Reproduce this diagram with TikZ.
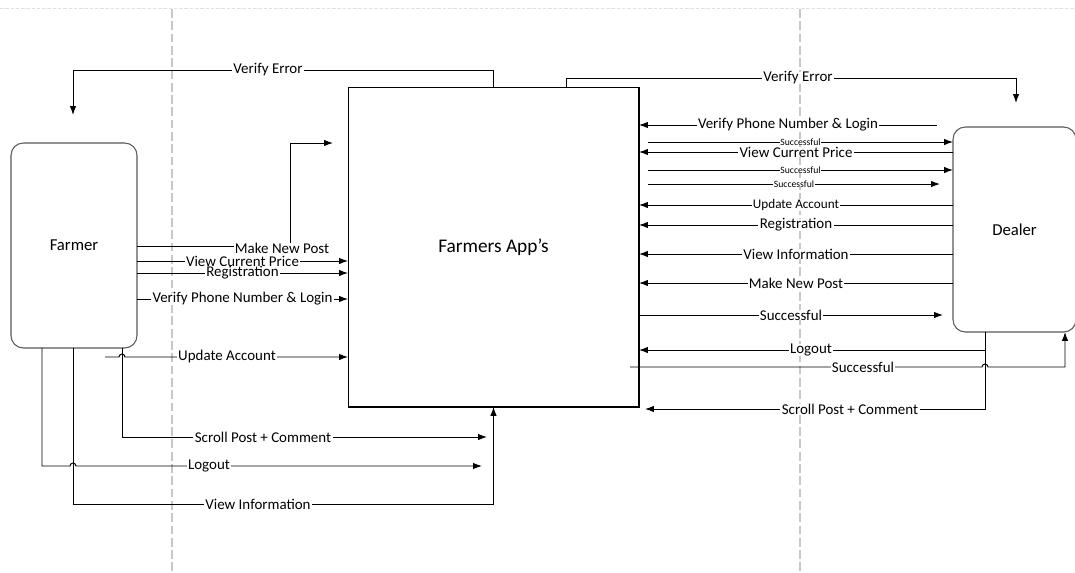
\documentclass[tikz,border=0pt]{standalone}
\usepackage{fontspec}
\setmainfont{Carlito}
\usetikzlibrary{arrows.meta, positioning}

\begin{document}
\begin{tikzpicture}[x=0.02cm, y=-0.02cm,
        actor/.style={rectangle, draw=black!65, line width=0.6pt, rounded corners=7pt, inner sep=0pt, outer sep=0pt, minimum height=4.1cm, font=\fontsize{9.5}{11}\selectfont},
        system/.style={rectangle, draw=black, line width=0.6pt, inner sep=0pt, outer sep=0pt, minimum width=5.82cm, minimum height=6.4cm, font=\fontsize{11}{13}\selectfont},
        lane/.style={draw=black!22, line width=0.6pt, dash pattern=on 5pt off 2pt},
        flow/.style={draw, -{Latex[length=5pt,width=3.6pt]}, line width=0.55pt},
        lbl/.style={fill=white, inner xsep=0.8pt, inner ysep=0pt, font=\fontsize{8.5}{9}\selectfont},
        smalllbl/.style={fill=white, inner xsep=0.5pt, inner ysep=0pt, font=\fontsize{5.5}{6}\selectfont}
    ]

        % Page and swim lanes
        \fill [white] (0,0) rectangle (1075,572);
        \useasboundingbox (0,0) rectangle (1075,572);
        \draw [draw=black!12, line width=0.5pt, dash pattern=on 2pt off 1pt] (0,8) -- (1075,8);
        \draw [lane] (172,9) -- (172,572);
        \draw [lane] (800,9) -- (800,572);

        % Actors and system
        \node [actor, minimum width=2.52cm] (farmer) at (74,245.5) {Farmer};
        \node [system] (app) at (493.5,247) {Farmers App’s};
        \node [actor, minimum width=2.46cm] (dealer) at (1014.5,229.5) {Dealer};

        % Free ends of connectors
        \coordinate (errF) at (73,115);
        \coordinate (errD) at (1016,103);
        \coordinate (postend) at (333,143);
        \coordinate (updF) at (105,357);
        \coordinate (scrollF) at (487,437);
        \coordinate (logoutF) at (482,466);
        \coordinate (loginD) at (937,125);
        \coordinate (okA) at (648,142);
        \coordinate (okB) at (648,170);
        \coordinate (okC) at (648,184);
        \coordinate (okCend) at (940,184);
        \coordinate (okDend) at (943,315);
        \coordinate (okE) at (630,367);
        \coordinate (scrollD) at (645,409);

        % Verify error loops
        \draw [flow] (app.north) -- (app.north |- 0,70) -| (errF) node[lbl] at (268,70) {Verify Error};
        \draw [flow] (app.north -| 566,0) -- (566,78) -| (errD) node[lbl] at (798,78) {Verify Error};

        % Farmer -> App
        \draw [flow] (farmer.east |- 0,273) -- node[lbl] {Registration} (app.west |- 0,273);
        \draw [flow] (farmer.east |- 0,261) -- node[lbl] {View Current Price} (app.west |- 0,261);
        \draw [flow] (farmer.east |- 0,246) -| (290,143) -- (postend) node[lbl] at (282,248) {Make New Post};
        \draw [flow] (farmer.east |- 0,299) -- node[lbl] {Verify Phone Number \& Login} (app.west |- 0,299);
        \draw [flow] (updF) -- (119,357) arc[start angle=180, end angle=0, radius=1.7pt] -- (app.west |- 0,357) node[lbl] at (227,357) {Update Account};
        \draw [flow] (farmer.south -| 122,0) |- (scrollF) node[lbl] at (263,437) {Scroll Post + Comment};
        \draw [flow] (farmer.south -| 42,0) -- (42,466) -- (70,466) arc[start angle=180, end angle=0, radius=1.7pt] -- (logoutF) node[lbl] at (209,466) {Logout};
        \draw [flow] (farmer.south -| 73,0) |- (app.south |- 0,504) -- (app.south) node[lbl] at (258,504) {View Information};

        % Dealer <-> App
        \draw [flow] (loginD) -- node[lbl] {Verify Phone Number \& Login} (app.east |- 0,125);
        \draw [flow] (dealer.west |- 0,152) -- node[lbl] {View Current Price} (app.east |- 0,152);
        \draw [flow] (okA) -- node[smalllbl] {Successful} (dealer.west |- 0,142);
        \draw [flow] (okB) -- node[smalllbl] {Successful} (dealer.west |- 0,170);
        \draw [flow] (okC) -- node[smalllbl] {Successful} (okCend);
        \draw [flow] (dealer.west |- 0,205) -- node[lbl, font=\fontsize{7.5}{8}\selectfont] {Update Account} (app.east |- 0,205);
        \draw [flow] (dealer.west |- 0,225) -- node[lbl] {Registration} (app.east |- 0,225);
        \draw [flow] (dealer.west |- 0,254) -- node[lbl] {View Information} (app.east |- 0,254);
        \draw [flow] (dealer.west |- 0,283) -- node[lbl] {Make New Post} (app.east |- 0,283);
        \draw [flow] (app.east |- 0,315) -- node[lbl] {Successful} (okDend);
        \draw [flow] (dealer.south -| 985,0) |- (app.east |- 0,350) node[lbl] at (811,350) {Logout};
        \draw [flow] (okE) -- (982,367) arc[start angle=180, end angle=0, radius=1.7pt] -- (1065,367) -- (dealer.south -| 1065,0) node[lbl] at (863,367) {Successful};
        \draw [flow] (dealer.south -| 985,0) |- (scrollD) node[lbl] at (850,409) {Scroll Post + Comment};

    \end{tikzpicture}
\end{document}
